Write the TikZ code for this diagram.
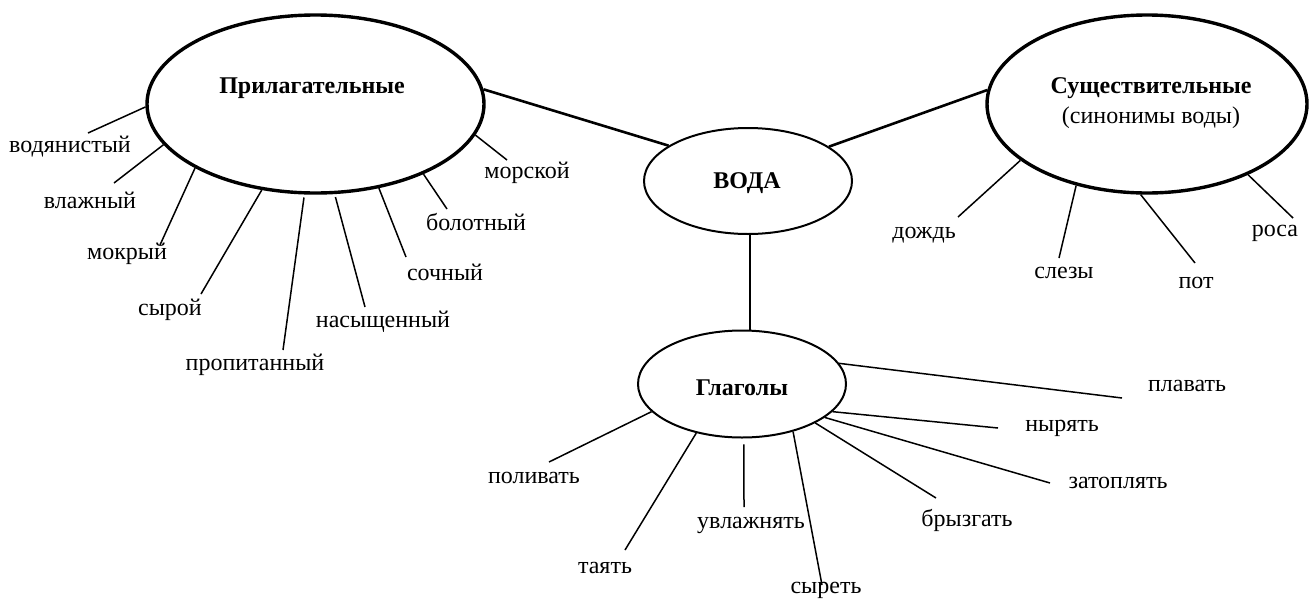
\documentclass[tikz,border=0pt]{standalone}
\usepackage{fontspec}
\setmainfont{Liberation Serif}
\usetikzlibrary{shapes.geometric}
\begin{document}
\begin{tikzpicture}[x=1pt,y=-1pt,
  hub/.style={draw,ellipse,inner sep=0pt,line width=3.4pt},
  sub/.style={draw,ellipse,inner sep=0pt,line width=2pt},
  title/.style={font=\fontsize{24}{28}\selectfont\bfseries,inner sep=0pt},
  word/.style={font=\fontsize{24}{28}\selectfont,inner sep=0pt},
  link/.style={line width=2.6pt},
  leaf/.style={line width=1.5pt}]
\useasboundingbox (0,0) rectangle (1311,600);
% main nodes
\node[hub,minimum width=337pt,minimum height=178pt] (prl) at (315.5,104) {};
\node[hub,minimum width=320pt,minimum height=178pt] (sus) at (1147,104) {};
\node[sub,minimum width=208pt,minimum height=106pt] (voda) at (748,181) {};
\node[sub,minimum width=208pt,minimum height=107pt] (glag) at (742,384) {};
\node[title] (tprl) at (312,88) {Прилагательные};
\node[title] (tsus) at (1151,88) {Существительные};
\node[word] (tsus2) at (1151,118) {(синонимы воды)};
\node[title] (tvoda) at (747,183) {ВОДА};
\node[title] (tglag) at (742,388) {Глаголы};
% main links
\draw[link] (prl.5.8) -- (voda.156);
\draw[link] (voda.23) -- (sus.175);
\draw[link] (voda.south -| 750,0) -- (glag.north -| 750,0);
% adjectives
\node[word] (w1) at (70,147) {водянистый};
\node[word] (w2) at (90,200) {влажный};
\node[word] (w3) at (127,254) {мокрый};
\node[word] (w4) at (170,310) {сырой};
\node[word] (w5) at (255,365) {пропитанный};
\node[word] (w6) at (383,322) {насыщенный};
\node[word] (w7) at (445,272) {сочный};
\node[word] (w8) at (476,222) {болотный};
\node[word] (w9) at (527,173) {морской};
\coordinate (e1) at (88,133);
\coordinate (e2) at (114,183);
\coordinate (e3) at (160,245);
\coordinate (e4) at (201,294);
\coordinate (e5) at (283,350);
\coordinate (e6) at (365,307);
\coordinate (e7) at (406,257);
\coordinate (e8) at (447,209);
\coordinate (e9) at (507,160);
\draw[leaf] (prl.181) -- (e1);
\draw[leaf] (prl.195.8) -- (e2);
\draw[leaf] (prl.208.8) -- (e3);
\draw[leaf] (prl.238.6) -- (e4);
\draw[leaf,shorten <=3pt] (prl.263.2) -- (e5);
\draw[leaf,shorten <=3pt] (prl.282.1) -- (e6);
\draw[leaf] (prl.307.1) -- (e7);
\draw[leaf] (prl.327.3) -- (e8);
\draw[leaf] (prl.349.2) -- (e9);
% nouns
\node[word] (n1) at (924,235) {дождь};
\node[word] (n2) at (1064,273) {слезы};
\node[word] (n3) at (1196,283) {пот};
\node[word] (n4) at (1275,233) {роса};
\coordinate (f1) at (958,217);
\coordinate (f2) at (1059,258);
\coordinate (f3) at (1195,263);
\coordinate (f4) at (1293,218);
\draw[leaf] (sus.204.5) -- (f1);
\draw[leaf] (sus.229.5) -- (f2);
\draw[leaf] (sus.266.9) -- (f3);
\draw[leaf] (sus.325.1) -- (f4);
% verbs
\node[word] (v1) at (1187,386) {плавать};
\node[word] (v2) at (1062,428) {нырять};
\node[word] (v3) at (1118,483) {затоплять};
\node[word] (v4) at (967,520) {брызгать};
\node[word] (v5) at (826,590) {сыреть};
\node[word] (v6) at (751,525) {увлажнять};
\node[word] (v7) at (605,568) {таять};
\node[word] (v8) at (534,478) {поливать};
\coordinate (g1) at (1122,398);
\coordinate (g2) at (998,428);
\coordinate (g3) at (1050,483);
\coordinate (g4) at (936,498);
\coordinate (g5) at (822,585);
\coordinate (g6) at (744,507);
\coordinate (g7) at (625,550);
\coordinate (g8) at (549,462);
\draw[leaf] (glag.12.2) -- (g1);
\draw[leaf] (glag.343.8) -- (g2);
\draw[leaf] (glag.338.1) -- (g3);
\draw[leaf] (glag.332.5) -- (g4);
\draw[leaf] (glag.317.2) -- (g5);
\draw[leaf,shorten <=6pt] (glag.272) -- (g6);
\draw[leaf] (glag.227.3) -- (g7);
\draw[leaf] (glag.197.9) -- (g8);
\end{tikzpicture}
\end{document}
